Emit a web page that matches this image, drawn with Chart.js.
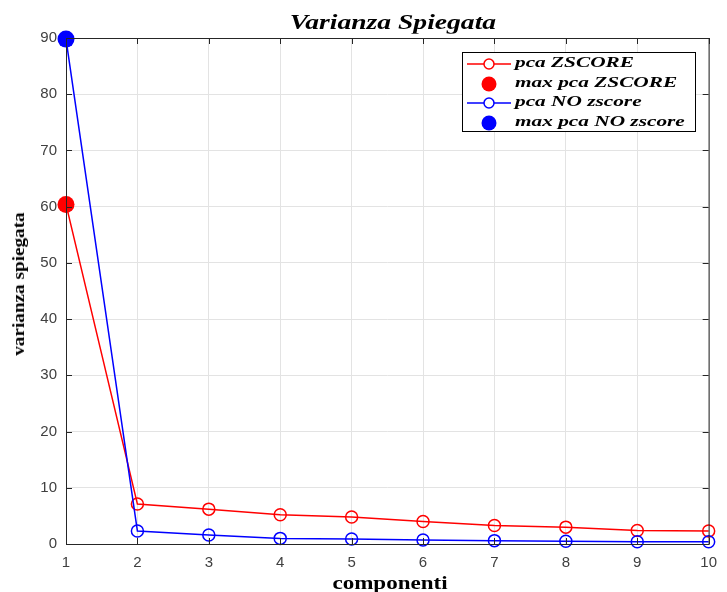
<!DOCTYPE html>
<html>
<head>
<meta charset="utf-8">
<script src="https://cdn.jsdelivr.net/npm/chart.js@4"></script>
<style>
  html, body { margin: 0; padding: 0; background: #ffffff; }
  #wrap { position: relative; width: 727px; height: 592px; }
  .lbl { position: absolute; left: 0; top: 0; white-space: nowrap; color: #000; line-height: 1; }
  #title { font: italic bold 20px "Liberation Serif", "Times New Roman", serif;
           transform: translate(393px, 22px) translate(-50%, -50%) scaleX(1.38); }
  #xlabel { font: bold 18px "Liberation Serif", "Times New Roman", serif;
            transform: translate(390px, 583px) translate(-50%, -50%) scaleX(1.28); }
  #ylabel { font: bold 16px "Liberation Serif", "Times New Roman", serif;
            transform: translate(19px, 284px) translate(-50%, -50%) rotate(-90deg) scaleX(1.2); }
  #legend { position: absolute; left: 462px; top: 52px; width: 234px; height: 80px;
            border: 1px solid #000; background: #fff; box-sizing: border-box; }
  .row { position: absolute; left: 0; height: 20px; width: 100%; }
  .row span { position: absolute; left: 52px; top: 0; line-height: 20px; transform-origin: 0 50%; transform: scaleX(1.42);
              font: italic bold 15px "Liberation Serif", "Times New Roman", serif; color: #000; white-space: nowrap; }
  .row canvas { position: absolute; left: 2px; top: 0; }
</style>
</head>
<body>
<div id="wrap">
  <canvas id="c" width="727" height="592"></canvas>
  <div id="title" class="lbl"></div>
  <div id="xlabel" class="lbl"></div>
  <div id="ylabel" class="lbl"></div>
  <div id="legend"></div>
</div>
<script>
const componenti = [1, 2, 3, 4, 5, 6, 7, 8, 9, 10];
const pcaZscore = [60.4, 7.1, 6.2, 5.2, 4.8, 4.0, 3.3, 3.0, 2.4, 2.3];
const pcaNoZscore = [89.8, 2.3, 1.6, 1.0, 0.9, 0.7, 0.6, 0.5, 0.4, 0.4];
const seriesNames = ['pca ZSCORE', 'max pca ZSCORE', 'pca NO zscore', 'max pca NO zscore'];
const titleText = 'Varianza Spiegata';
const xLabel = 'componenti';
const yLabel = 'varianza spiegata';

const RED = '#ff0000';
const BLUE = '#0000ff';

function toXY(xs, ys) { return xs.map((x, i) => ({ x: x, y: ys[i] })); }
function maxPoint(xs, ys) {
  let k = 0;
  ys.forEach((v, i) => { if (v > ys[k]) k = i; });
  return [{ x: xs[k], y: ys[k] }];
}

const frame = {
  id: 'frame',
  afterDatasetsDraw(chart) {
    const a = chart.chartArea, ctx = chart.ctx;
    ctx.save();
    ctx.strokeStyle = '#262626';
    ctx.lineWidth = 1;
    ctx.strokeRect(a.left + 0.5, a.top + 0.5, a.right - a.left, a.bottom - a.top);
    const xs = chart.scales.x, ys = chart.scales.y;
    ctx.beginPath();
    xs.ticks.forEach(t => { const p = Math.round(xs.getPixelForValue(t.value)) + 0.5;
      ctx.moveTo(p, a.top); ctx.lineTo(p, a.top + 6); ctx.moveTo(p, a.bottom); ctx.lineTo(p, a.bottom - 6); });
    ys.ticks.forEach(t => { const p = Math.round(ys.getPixelForValue(t.value)) + 0.5;
      ctx.moveTo(a.left, p); ctx.lineTo(a.left + 6, p); ctx.moveTo(a.right, p); ctx.lineTo(a.right - 6, p); });
    ctx.stroke();
    ctx.restore();
  }
};

const chart = new Chart(document.getElementById('c'), {
  type: 'line',
  data: {
    datasets: [
      { label: seriesNames[0], data: toXY(componenti, pcaZscore), borderColor: RED, backgroundColor: 'rgba(0,0,0,0)',
        borderWidth: 1.5, pointRadius: 6, pointBorderWidth: 1.5, pointBorderColor: RED, pointBackgroundColor: 'rgba(0,0,0,0)',
        tension: 0, clip: false, order: 3 },
      { label: seriesNames[1], type: 'scatter', data: maxPoint(componenti, pcaZscore), borderColor: RED, backgroundColor: RED,
        pointRadius: 8.5, pointBorderWidth: 0, showLine: false, clip: false, order: 1 },
      { label: seriesNames[2], data: toXY(componenti, pcaNoZscore), borderColor: BLUE, backgroundColor: 'rgba(0,0,0,0)',
        borderWidth: 1.5, pointRadius: 6, pointBorderWidth: 1.5, pointBorderColor: BLUE, pointBackgroundColor: 'rgba(0,0,0,0)',
        tension: 0, clip: false, order: 2 },
      { label: seriesNames[3], type: 'scatter', data: maxPoint(componenti, pcaNoZscore), borderColor: BLUE, backgroundColor: BLUE,
        pointRadius: 8.5, pointBorderWidth: 0, showLine: false, clip: false, order: 0 }
    ]
  },
  options: {
    responsive: false,
    animation: false,
    layout: { padding: { left: 0, right: 13, top: 38, bottom: 0 } },
    plugins: { legend: { display: false }, title: { display: false }, tooltip: { enabled: false } },
    scales: {
      x: {
        type: 'linear', min: 1, max: 10,
        grid: { color: '#e3e3e3', drawTicks: false },
        border: { display: false },
        ticks: { stepSize: 1, padding: 10, color: '#404040', font: { family: 'Liberation Sans, Arial, sans-serif', size: 15 } },
        afterFit(s) { s.height = 48; }
      },
      y: {
        min: 0, max: 90,
        grid: { color: '#e3e3e3', drawTicks: false },
        border: { display: false },
        ticks: { stepSize: 10, padding: 9, color: '#404040', font: { family: 'Liberation Sans, Arial, sans-serif', size: 15 } },
        afterFit(s) { s.width = 66; }
      }
    }
  },
  plugins: [frame]
});

const legend = document.getElementById('legend');
chart.data.datasets.forEach((ds, i) => {
  const row = document.createElement('div');
  row.className = 'row';
  row.style.top = (1 + i * 19.5) + 'px';
  const cv = document.createElement('canvas');
  cv.width = 48; cv.height = 20;
  const g = cv.getContext('2d');
  const filled = ds.type === 'scatter';
  g.strokeStyle = ds.borderColor; g.fillStyle = ds.backgroundColor;
  if (!filled) {
    g.lineWidth = 1.5;
    g.beginPath(); g.moveTo(2, 10); g.lineTo(46, 10); g.stroke();
    g.beginPath(); g.arc(24, 10, 5, 0, Math.PI * 2); g.fillStyle = '#fff'; g.fill(); g.stroke();
  } else {
    g.beginPath(); g.arc(24, 10, 7.5, 0, Math.PI * 2); g.fill();
  }
  row.appendChild(cv);
  const sp = document.createElement('span');
  sp.textContent = ds.label;
  row.appendChild(sp);
  legend.appendChild(row);
});
document.getElementById('title').textContent = titleText;
document.getElementById('xlabel').textContent = xLabel;
document.getElementById('ylabel').textContent = yLabel;
</script>
</body>
</html>
